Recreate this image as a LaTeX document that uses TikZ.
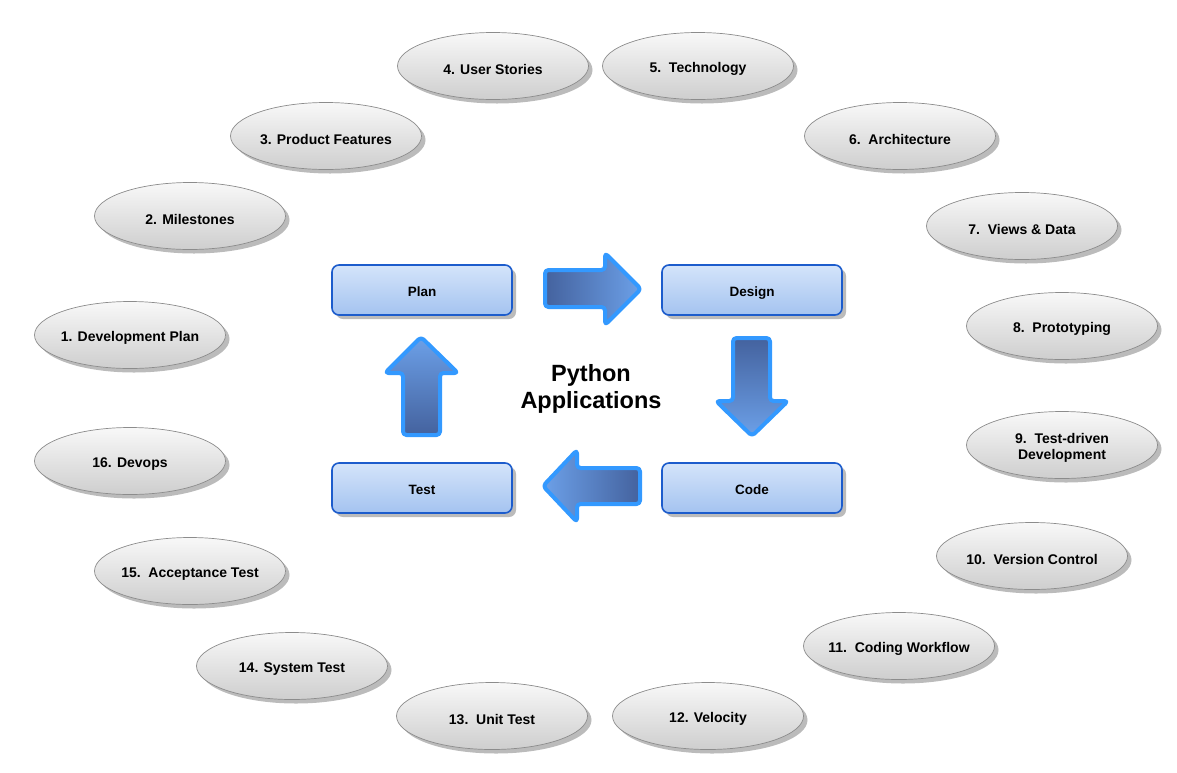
\documentclass[tikz,border=0pt]{standalone}
\usepackage{fontspec}
\setmainfont{Liberation Sans}
\usetikzlibrary{shapes.geometric,shadows}
\definecolor{ellTop}{RGB}{248,248,248}
\definecolor{ellBot}{RGB}{206,206,206}
\definecolor{ellDraw}{RGB}{140,140,140}
\definecolor{boxTop}{RGB}{212,228,250}
\definecolor{boxBot}{RGB}{164,195,240}
\definecolor{boxDraw}{RGB}{28,92,204}
\definecolor{arrDark}{RGB}{68,98,158}
\definecolor{arrLight}{RGB}{108,160,232}
\definecolor{arrDraw}{RGB}{51,153,255}
\definecolor{shadowGray}{RGB}{170,170,170}
\tikzset{
  topictext/.style={align=center, inner sep=0pt, yshift=-3pt, font=\fontsize{14}{16}\selectfont\bfseries},
  topic/.style={ellipse, draw=ellDraw, line width=0.7pt, top color=ellTop, bottom color=ellBot,
    minimum width=191pt, minimum height=67pt, inner sep=0pt,
    drop shadow={shadow xshift=4pt, shadow yshift=-4pt, fill=shadowGray, opacity=0.8},
    label={[topictext]center:#1}},
  phase/.style={rectangle, rounded corners=7pt, draw=boxDraw, line width=1.6pt,
    top color=boxTop, bottom color=boxBot, minimum width=180pt, minimum height=50pt,
    text height=13.5pt, text depth=0pt,
    font=\fontsize{13.5}{16}\selectfont\bfseries,
    drop shadow={shadow xshift=4pt, shadow yshift=-4pt, fill=shadowGray, opacity=0.8}},
  flow/.style={draw=arrDraw, line width=4pt, rounded corners=3.5pt, line join=round},
  title/.style={align=center, font=\fontsize{23.5}{27}\selectfont\bfseries}
}
\begin{document}
\begin{tikzpicture}[x=1pt,y=-1pt]
\useasboundingbox (0,0) rectangle (1177,772);
% phases
\node[phase] (plan)   at (422,290) {Plan};
\node[phase] (design) at (752,290) {Design};
\node[phase] (test)   at (422,488) {Test};
\node[phase] (code)   at (752,488) {Code};
\node[title] (center) at (591,389) {Python\\Applications};
% block arrows
\path[flow, left color=arrDark, right color=arrLight]
  (545,270) -- (605,270) -- (605,253) -- (641,289) -- (605,325) -- (605,307) -- (545,307) -- cycle;
\path[flow, top color=arrDark, bottom color=arrLight]
  (733,338) -- (770,338) -- (770,401) -- (788,401) -- (752,436) -- (716,401) -- (733,401) -- cycle;
\path[flow, left color=arrLight, right color=arrDark]
  (640,468) -- (577,468) -- (577,450) -- (543,486) -- (577,522) -- (577,504) -- (640,504) -- cycle;
\path[flow, top color=arrLight, bottom color=arrDark]
  (403,435) -- (403,373) -- (385,373) -- (421,337) -- (458,373) -- (440,373) -- (440,435) -- cycle;
% topics
\node[topic={1. Development Plan}] (t1)  at (130,335) {};
\node[topic={2. Milestones}] (t2)  at (190,216) {};
\node[topic={3. Product Features}] (t3)  at (326,136) {};
\node[topic={4. User Stories}] (t4)  at (493,66) {};
\node[topic={5.\ \ Technology}] (t5)  at (698,66) {};
\node[topic={6.\ \ Architecture}] (t6)  at (900,136) {};
\node[topic={7.\ \ Views \& Data}] (t7)  at (1022,226) {};
\node[topic={8.\ \ Prototyping}] (t8)  at (1062,326) {};
\node[topic={9.\ \ Test-driven\\Development}] (t9)  at (1062,445) {};
\node[topic={10.\ \ Version Control}] (t10) at (1032,556) {};
\node[topic={11.\ \ Coding Workflow}] (t11) at (899,646) {};
\node[topic={12. Velocity}] (t12) at (708,716) {};
\node[topic={13.\ \ Unit Test}] (t13) at (492,716) {};
\node[topic={14. System Test}] (t14) at (292,666) {};
\node[topic={15.\ \ Acceptance Test}] (t15) at (190,571) {};
\node[topic={16. Devops}] (t16) at (130,461) {};
\end{tikzpicture}
\end{document}
